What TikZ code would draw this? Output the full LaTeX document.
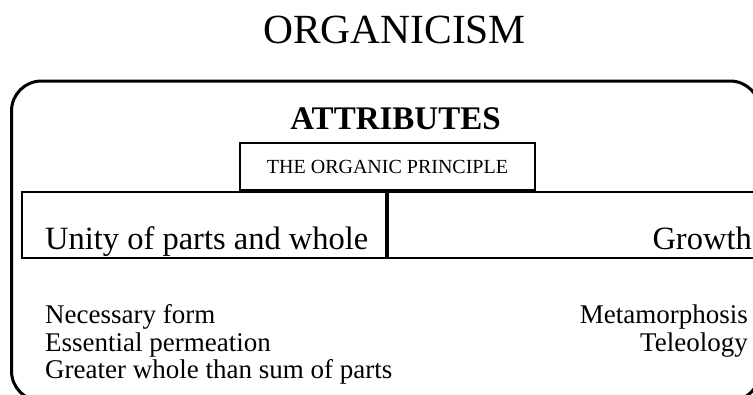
\documentclass[tikz,border=0pt]{standalone}
\usepackage{fontspec}
\setmainfont{Liberation Serif}
\usetikzlibrary{positioning}

\begin{document}
\begin{tikzpicture}[
  x=1pt, y=-1pt,
  frame/.style={draw, line width=3pt, rounded corners=30pt},
  box/.style={rectangle, draw, line width=2pt, inner sep=0pt},
  txt/.style={inner sep=0pt},
]
  \useasboundingbox (0,0) rectangle (753,394);
  \clip (0,0) rectangle (753,394);

  \node[txt, anchor=base, font=\fontsize{41.5}{48}\selectfont] (title) at (394.5,43) {ORGANICISM};
  \draw[frame] (11.5,81) rectangle (760,401);

  \node[txt, anchor=base, font=\fontsize{33}{38}\selectfont\bfseries] (attr) at (395.5,129) {ATTRIBUTES};
  \node[box, anchor=south, minimum width=295pt, minimum height=47pt, font=\fontsize{20}{24}\selectfont] (principle) at (387.5,191) {THE ORGANIC PRINCIPLE};

  \node[box, anchor=north west, minimum width=364pt, minimum height=66pt] (unity) at (21,191) {};
  \node[box, anchor=north west, minimum width=366pt, minimum height=66pt] (growth) at (unity.north east) {};
  \node[txt, anchor=base west, font=\fontsize{32.5}{38}\selectfont] (unitytext) at ([xshift=24pt, yshift=10pt]unity.south west) {Unity of parts and whole};
  \node[txt, anchor=base east, font=\fontsize{32.5}{38}\selectfont] (growthtext) at ([xshift=-3pt, yshift=10pt]growth.south east) {Growth};

  \node[txt, anchor=north west, align=left, font=\fontsize{27}{27.5}\selectfont] (unitylist) at (45,304.6) {Necessary form\\Essential permeation\\Greater whole than sum of parts};
  \node[txt, anchor=north east, align=right, font=\fontsize{27}{27.5}\selectfont] (growthlist) at (748,304.6) {Metamorphosis\\Teleology};
\end{tikzpicture}
\end{document}
